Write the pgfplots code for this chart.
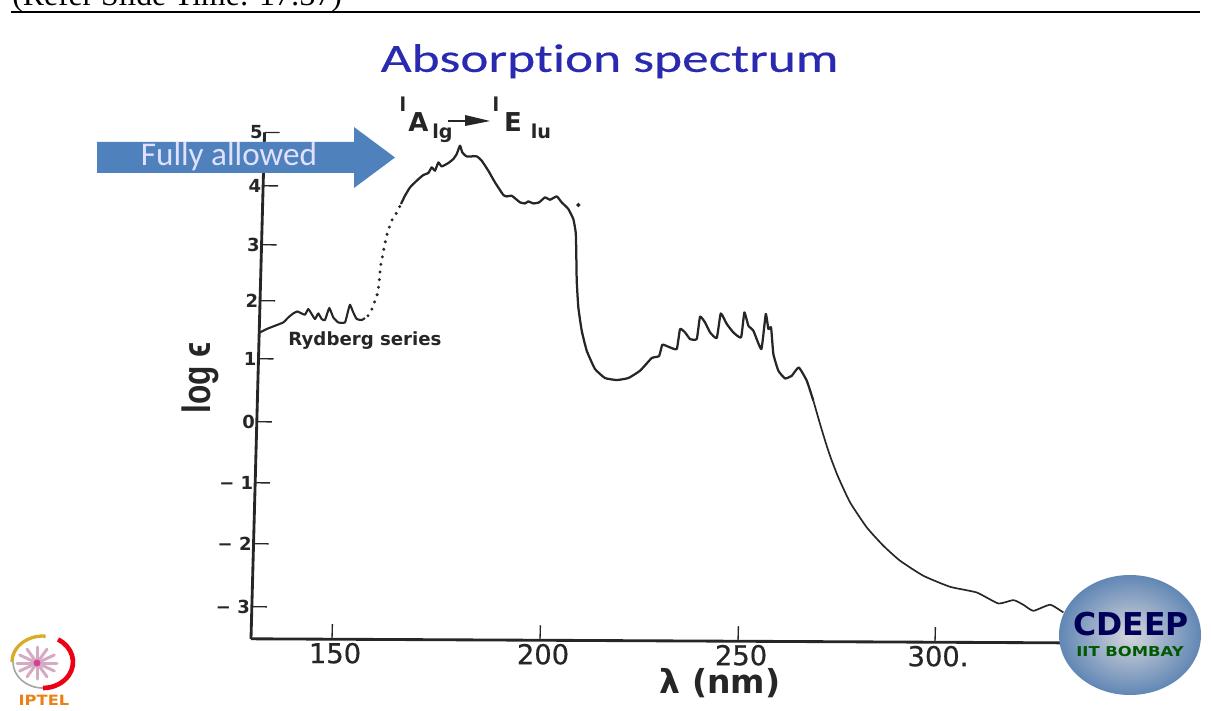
\documentclass[border=0pt]{standalone}
\usepackage{fontspec}
\usepackage{graphicx}
\usepackage{pgfplots}
\pgfplotsset{compat=1.18}
\setmainfont{DejaVu Sans}
\newfontfamily\lib{Liberation Sans}
\newfontfamily\libserif{Liberation Serif}
\newfontfamily\carlito{Carlito}
\definecolor{ink}{HTML}{262626}
\definecolor{titleblue}{HTML}{2A2AB0}
\definecolor{arrowblue}{HTML}{4F81BD}
\begin{document}
\begin{tikzpicture}
\begin{scope}[x=0.6pt,y=-0.6pt]
\path[use as bounding box] (0,0) rectangle (1211,709);
\begin{scope}
\clip (0,0) rectangle (1211,30);
\node[anchor=base west,inner sep=0pt,font=\libserif\fontsize{19}{20}\selectfont,text=black] at (12,6) {(Refer Slide Time: 17:37)};
\end{scope}
\draw[line width=1.3pt,black] (11,11.7) -- (1200,11.7);
\end{scope}
\begin{axis}[
  at={(150.6pt,-385.8pt)}, anchor=south west,
  x={(2.412pt,-0.01206pt)}, y={(0.965pt,36pt)},
  xmin=129.85, xmax=338.56, ymin=-3.617, ymax=4.822,
  axis lines=left, axis line style={-, ink, line width=1.7pt},
  xtick={150,201.74,251.0,300}, xticklabels={150,200,250,300.},
  ytick={-3.083,-2.033,-1.017,0,1.05,2.017,2.95,3.933,4.822},
  yticklabels={\textminus\ 3,\textminus\ 2,\textminus\ 1,0,1,2,3,4,5},
  tick align=inside, major tick length=9pt,
  tick style={ink, line width=0.8pt},
  xticklabel style={font=\fontsize{16.4}{18}\selectfont\addfontfeature{FakeBold=0.6}, text=ink, inner sep=0pt, yshift=-2pt, xshift=2pt},
  yticklabel style={font=\bfseries\fontsize{10.8}{12}\selectfont, text=ink, inner sep=1pt},
  ylabel={\scalebox{1}[1.25]{\lib\bfseries\fontsize{19}{22}\selectfont log ϵ}},
  y label style={at={(axis description cs:-0.0595,0.519)}, rotate=0, anchor=center, text=ink},
  xlabel={\bfseries\fontsize{19.8}{22}\selectfont λ (nm)},
  x label style={at={(axis description cs:0.5502,-0.079)}, anchor=center, text=ink, inner sep=0pt},
  title={\scalebox{1.335}[1]{\carlito\fontsize{24}{28}\selectfont\addfontfeature{FakeBold=0.3} Absorpt\kern0pt ion spectrum}},
  title style={at={(axis description cs:0.4207,1.12)}, anchor=center, text=titleblue},
  clip=false,
]
\addplot[ink, line width=1.25pt, line join=round, smooth, tension=0.25] coordinates {
(130.05,1.489)(131.69,1.547)(133.73,1.602)(135.77,1.658)(136.99,1.742)(138.20,1.809)(139.18,1.842)(140.29,1.809)(141.12,1.788)(141.90,1.883)(142.78,1.800)(143.64,1.717)(144.42,1.811)(145.30,1.718)(146.13,1.701)(147.12,1.902)(148.18,1.745)(149.46,1.662)(151.12,1.663)(151.73,1.830)(152.25,1.958)(153.12,1.830)(154.01,1.721)(155.26,1.704)(156.07,1.738)
};
\addplot[ink, line width=2pt, line cap=round, dash pattern=on 0pt off 4.6pt] coordinates {
(156.8,1.777)(157.52,1.848)(158.30,1.999)(159.11,2.166)(159.43,2.416)(159.54,2.583)(159.97,2.749)(160.50,2.973)(161.09,3.167)(162.04,3.362)(163.28,3.501)(164.26,3.641)
};
\addplot[ink, line width=1.35pt, line join=round, smooth, tension=0.25] coordinates {
(164.26,3.641)(165.20,3.780)(166.39,3.918)(168.02,4.031)(169.62,4.126)(170.85,4.160)(171.66,4.254)(172.50,4.199)(173.27,4.337)(174.14,4.271)(175.76,4.328)(176.98,4.395)(177.79,4.479)(178.55,4.618)(179.17,4.506)(180.29,4.440)(182.78,4.441)(184.05,4.369)(185.76,4.203)(187.50,4.009)(189.65,3.800)(190.51,3.776)(191.75,3.788)(193.86,3.678)(195.11,3.661)(195.91,3.695)(197.17,3.662)(198.58,3.679)(200.04,3.763)(201.30,3.725)(202.95,3.781)(204.23,3.681)(205.91,3.572)(207.22,3.405)(207.91,3.182)(208.16,2.877)(208.48,2.377)(209.06,1.932)(210.06,1.544)(211.44,1.211)(213.62,0.907)(216.17,0.758)(219.10,0.726)(221.97,0.760)(224.83,0.883)(227.65,1.095)(229.46,1.129)(230.20,1.318)(231.71,1.285)(233.81,1.247)(234.50,1.581)(235.77,1.525)(237.05,1.415)(238.72,1.416)(239.39,1.788)(240.67,1.693)(241.99,1.527)(243.69,1.434)(244.52,1.844)(246.09,1.668)(247.78,1.529)(249.73,1.446)(250.39,1.863)(251.47,1.642)(252.75,1.559)(254.86,1.254)(255.72,1.838)(256.47,1.588)(257.13,1.615)(257.88,1.172)(259.23,0.894)(260.95,0.766)(262.6,0.812)(264.28,0.951)(266.36,0.730)(268.14,0.397)
};
\addplot[ink, line width=1pt, line join=round, smooth, tension=0.3] coordinates {
(268.14,0.397)(269.96,0.009)(271.58,-0.319)(272.93,-0.568)(274.79,-0.868)(277.95,-1.295)(282.27,-1.710)(286.52,-2.014)(290.77,-2.262)(296.67,-2.511)(303.38,-2.692)(310.06,-2.785)(315.51,-2.966)(319.22,-2.908)(321.73,-2.986)(324.26,-3.085)(328.38,-2.983)(331.74,-3.111)
};
\addplot[only marks, mark=*, mark size=1.1pt, ink] coordinates {(208.38,3.639)};
\end{axis}
\begin{scope}[x=0.6pt,y=-0.6pt]
% Fully allowed arrow
\fill[arrowblue] (97,142) -- (354,142) -- (354,127) -- (395,157.5) -- (354,188) -- (354,173) -- (97,173) -- cycle;
\node[text=blue!12!white,font=\carlito\fontsize{19.9}{22}\selectfont,anchor=center] at (229,157) {Fully allowed};
% Rydberg label
\node[text=ink,font=\bfseries\fontsize{10.9}{12}\selectfont,anchor=center] at (365,341) {Rydberg series};
% transition label
\node[text=ink,font=\bfseries\fontsize{11.5}{12}\selectfont,anchor=center] at (403,104) {l};
\node[text=ink,font=\bfseries\fontsize{15.6}{17}\selectfont,anchor=center] at (418.5,122.5) {A};
\node[text=ink,font=\bfseries\fontsize{11.5}{12}\selectfont,anchor=base] at (442.5,139) {lg};
\draw[ink,line width=0.7pt] (448,121) -- (468,121);
\fill[ink] (465,115) -- (490,121) -- (465,126) -- cycle;
\node[text=ink,font=\bfseries\fontsize{11.5}{12}\selectfont,anchor=center] at (496,104) {l};
\node[text=ink,font=\bfseries\fontsize{15.6}{17}\selectfont,anchor=center] at (513,122.5) {E};
\node[text=ink,font=\bfseries\fontsize{11.5}{12}\selectfont,anchor=base] at (541,139) {lu};
% CDEEP logo
\shade[inner color=blue!8!gray!30!white, outer color=arrowblue!80!gray!95] (1130,635) ellipse [x radius=71,y radius=60];
\node[text=blue!35!black,font=\bfseries\fontsize{18.9}{20}\selectfont,anchor=center] at (1131,624) {CDEEP};
\node[text=green!35!black,font=\bfseries\fontsize{8.2}{9}\selectfont,anchor=center] at (1130,652) {\scalebox{1.2}[1]{IIT BOMBAY}};
% NPTEL logo
\foreach \a in {0,30,...,330} {\draw[magenta!40!gray!55,line width=1.8pt,line cap=round] (37,663) -- ++(\a:20 and 16);}
\fill[magenta!70!gray] (37,663) circle (3.5);
\draw[orange!50!yellow!70!gray,line width=2pt] (43,662) ++(180:31 and 26) arc [start angle=180,end angle=275,x radius=31,y radius=26];
\draw[gray!70,line width=1pt] (43,662) ++(180:30 and 26) arc [start angle=180,end angle=90,x radius=30,y radius=26];
\draw[red!70!purple,line width=2.8pt] (43,662) ++(-60:30 and 26) arc [start angle=-60,end angle=90,x radius=30,y radius=26];
\node[text=orange!70!brown,font=\bfseries\fontsize{8.5}{9}\selectfont,anchor=center] at (44,700) {\scalebox{1.15}[1]{IPTEL}};
\end{scope}
\end{tikzpicture}
\end{document}
